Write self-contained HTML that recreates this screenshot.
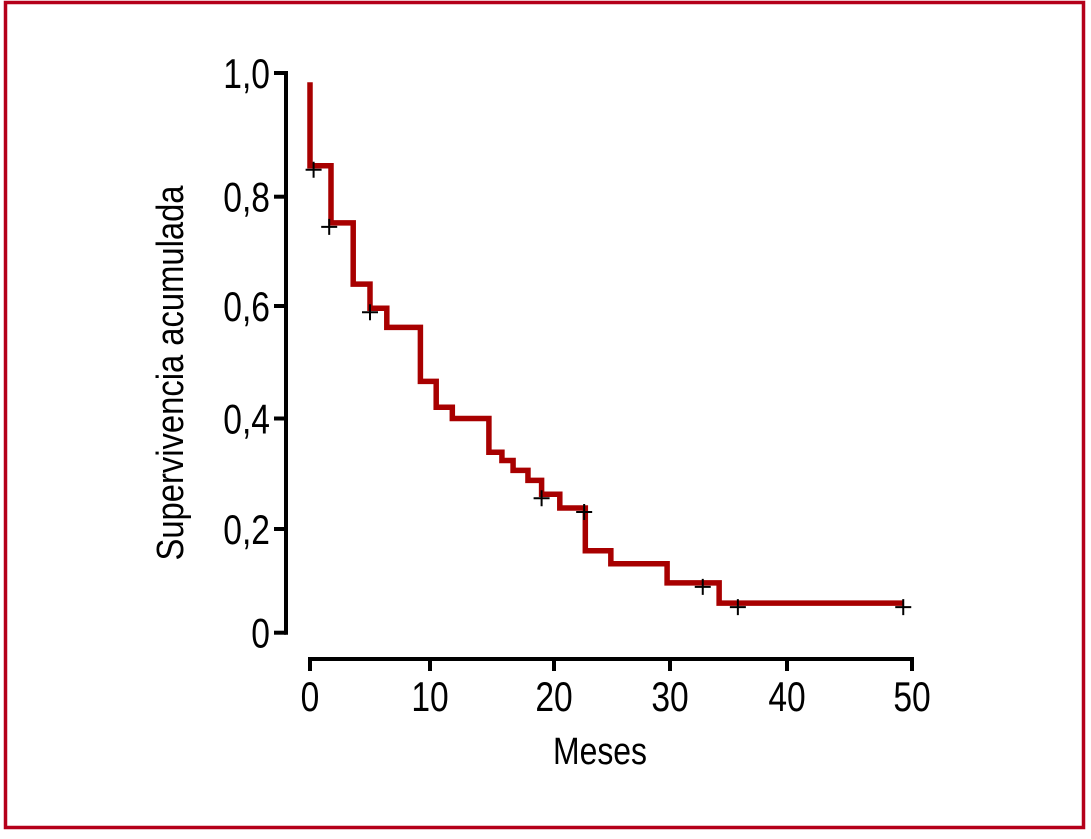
<!DOCTYPE html>
<html><head><meta charset="utf-8"><style>
html,body{margin:0;padding:0;background:#fff;}
svg{display:block;}
text{font-family:"Liberation Sans Narrow","Liberation Sans",sans-serif;fill:#000;}
</style></head><body>
<svg id="chart" width="1091" height="839" viewBox="0 0 1091 839">
<rect x="5.5" y="2.5" width="1078" height="825" fill="none" stroke="#b5001a" stroke-width="3.5"/>
<g id="axes"></g>
<g id="series"></g>
<text x="183" y="373" font-size="38" text-anchor="middle" textLength="375" lengthAdjust="spacingAndGlyphs" transform="rotate(-90 183 373)">Supervivencia acumulada</text>
<text x="600" y="764" font-size="38" text-anchor="middle" textLength="94" lengthAdjust="spacingAndGlyphs">Meses</text>
</svg>
<script>
const yTickValues=[0,0.2,0.4,0.6,0.8,1.0];
const yTickLabels=["0","0,2","0,4","0,6","0,8","1,0"];
const xTickValues=[0,10,20,30,40,50];
const xTickLabels=["0","10","20","30","40","50"];
const stepTimes=[0,1.75,3.6,5,6.4,9.2,10.5,11.8,14.75,15.8,16.7,17.9,19,20.5,22.7,24.9,29.75,34.2];
const stepSurv=[0.85,0.752,0.64,0.596,0.562,0.466,0.42,0.4,0.339,0.324,0.306,0.288,0.263,0.238,0.158,0.133,0.096,0.057];
const startSurv=0.985;
const endTime=49.3;
const censorTimes=[0.3,1.6,5,19,22.6,32.8,35.8,49.3];
const censorSurv=[0.85,0.752,0.596,0.263,0.238,0.096,0.057,0.057];

const yPix=[632.7,529,418.5,306,196.7,73];
const xPix=[310,430,554,670,787,912];
function interp(v,vals,pix){
  for(let i=0;i<vals.length-1;i++){
    if(v<=vals[i+1]||i===vals.length-2){
      const t=(v-vals[i])/(vals[i+1]-vals[i]);return pix[i]+t*(pix[i+1]-pix[i]);}
  }
}
const Y=v=>interp(v,yTickValues,yPix);
const X=v=>interp(v,xTickValues,xPix);
const NS="http://www.w3.org/2000/svg";
const axes=document.getElementById('axes'),series=document.getElementById('series');
function mk(tag,attrs,parent){const e=document.createElementNS(NS,tag);for(const k in attrs)e.setAttribute(k,attrs[k]);parent.appendChild(e);return e;}
const yAxisX=286,xAxisY=659;
let ya=mk('line',{x1:yAxisX,y1:Y(1)-2,x2:yAxisX,y2:Y(0)+2,stroke:'#000','stroke-width':4},axes);


yTickValues.forEach((v,i)=>{
  const t=mk('line',{x1:yAxisX-12,y1:Y(v),x2:yAxisX,y2:Y(v),stroke:'#000','stroke-width':4},axes);
  
  
  const ax=yAxisX-16, ay=Y(v)+15;
  const l=mk('text',{x:0,y:0,'font-size':42,'text-anchor':'end',transform:`translate(${ax},${ay}) scale(0.8,1)`},axes);
  l.textContent=yTickLabels[i];
  
  
});
let xa=mk('line',{x1:X(0)-2,y1:xAxisY,x2:X(50)+2,y2:xAxisY,stroke:'#000','stroke-width':4},axes);


xTickValues.forEach((v,i)=>{
  const t=mk('line',{x1:X(v),y1:xAxisY,x2:X(v),y2:xAxisY+12,stroke:'#000','stroke-width':4},axes);
  
  
  const l=mk('text',{x:0,y:0,'font-size':42,'text-anchor':'middle',transform:`translate(${X(v)},${xAxisY+52}) scale(0.8,1)`},axes);
  l.textContent=xTickLabels[i];
  
  
});
let d='M'+X(0)+','+Y(startSurv);
for(let i=0;i<stepTimes.length;i++){d+=' L'+X(stepTimes[i])+','+Y(stepSurv[i]);if(i<stepTimes.length-1)d+=' L'+X(stepTimes[i+1])+','+Y(stepSurv[i]);}
d+=' L'+X(endTime)+','+Y(stepSurv[stepSurv.length-1]);
const p=mk('path',{d:d,fill:'none',stroke:'#a80000','stroke-width':5.5,'stroke-linejoin':'miter'},series);


censorTimes.forEach((t,i)=>{
  const cx=X(t),cy=Y(censorSurv[i])+4;
  const c=mk('path',{d:`M${cx-8},${cy} H${cx+8} M${cx},${cy-8} V${cy+8}`,stroke:'#000','stroke-width':2,fill:'none'},series);
  
  
});
</script>
</body></html>
